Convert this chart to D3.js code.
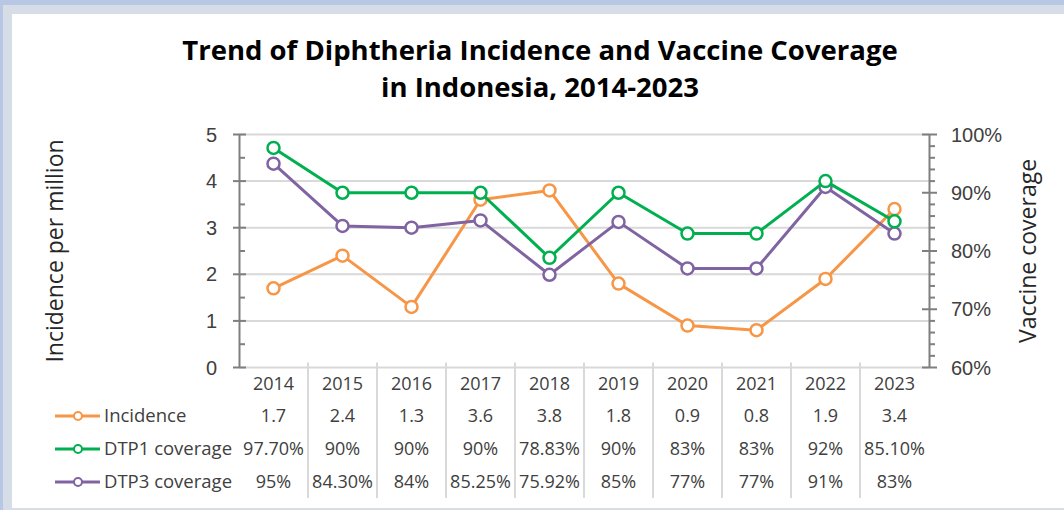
<!DOCTYPE html>
<html>
<head>
<meta charset="utf-8">
<script src="https://cdn.jsdelivr.net/npm/d3@7"></script>
<style>
  html, body { margin: 0; padding: 0; background: #ffffff; }
  svg { display: block; font-family: "Open Sans", "Noto Sans", sans-serif; }
</style>
</head>
<body>
<svg id="chart" width="1064" height="510"></svg>
<script>
// Years on the category axis
const years = ["2014", "2015", "2016", "2017", "2018", "2019", "2020", "2021", "2022", "2023"];
// Diphtheria incidence per million population
const incidence = [1.7, 2.4, 1.3, 3.6, 3.8, 1.8, 0.9, 0.8, 1.9, 3.4];
// Vaccine coverage, percent
const dtp1 = [97.70, 90, 90, 90, 78.83, 90, 83, 83, 92, 85.10];
const dtp3 = [95, 84.30, 84, 85.25, 75.92, 85, 77, 77, 91, 83];
// Axis ticks
const leftTicks = [0, 1, 2, 3, 4, 5];
const rightTicks = [60, 70, 80, 90, 100];

const seriesNames = ["Incidence", "DTP1 coverage", "DTP3 coverage"];
const colors = ["#f79646", "#00b050", "#8064a2"];

const svg = d3.select("#chart");
const W = 1064, H = 510;

// Frame around the chart area
svg.append("rect").attr("x", 0).attr("y", 0).attr("width", W).attr("height", H).attr("fill", "#b7c7e4");
svg.append("rect").attr("x", 3).attr("y", 5).attr("width", W - 3).attr("height", H - 5).attr("fill", "#d6dde7");
svg.append("rect").attr("x", 12).attr("y", 14).attr("width", W - 12).attr("height", 494).attr("fill", "#ffffff");

const plot = { left: 239, right: 929, top: 134.5, bottom: 367.5 };

const x = d3.scaleBand().domain(years).range([plot.left, plot.right]).padding(0);
const yL = d3.scaleLinear().domain([0, 5]).range([plot.bottom, plot.top]);
const yR = d3.scaleLinear().domain([60, 100]).range([plot.bottom, plot.top]);
const cx = d => x(d) + x.bandwidth() / 2;

// Title
const title = svg.append("text")
  .attr("text-anchor", "middle")
  .attr("font-size", 27.5).attr("font-weight", 700).attr("fill", "#000");
title.append("tspan").attr("x", 540).attr("y", 60).text("Trend of Diphtheria Incidence and Vaccine Coverage");
title.append("tspan").attr("x", 540).attr("y", 97).text("in Indonesia, 2014-2023");

// Horizontal gridlines on the incidence scale
svg.append("g").selectAll("line").data(leftTicks).join("line")
  .attr("x1", plot.left).attr("x2", plot.right)
  .attr("y1", d => yL(d)).attr("y2", d => yL(d))
  .attr("stroke", "#d9d9d9").attr("stroke-width", 2);

// Column separators: category boundaries running down through the data table
svg.append("g").selectAll("line").data(years.slice(1)).join("line")
  .attr("x1", d => x(d)).attr("x2", d => x(d))
  .attr("y1", plot.bottom - 5).attr("y2", 498)
  .attr("stroke", "#d9d9d9").attr("stroke-width", 2);

// Left axis (incidence)
const axisColor = "#7f7f7f";
const gL = svg.append("g").attr("transform", `translate(${plot.left},0)`);
gL.call(d3.axisLeft(yL).tickValues(d3.range(0, 5.01, 0.5)).tickSize(0).tickFormat(""));
gL.select(".domain").attr("stroke", axisColor).attr("stroke-width", 2);
gL.selectAll(".minor").data(d3.range(0.5, 5, 1)).join("line").attr("class", "minor")
  .attr("x1", 0).attr("x2", 6).attr("y1", d => yL(d)).attr("y2", d => yL(d))
  .attr("stroke", axisColor).attr("stroke-width", 2);
gL.selectAll(".major").data(leftTicks).join("line").attr("class", "major")
  .attr("x1", -6).attr("x2", 7).attr("y1", d => yL(d)).attr("y2", d => yL(d))
  .attr("stroke", axisColor).attr("stroke-width", 2);
gL.selectAll(".lbl").data(leftTicks).join("text").attr("class", "lbl")
  .attr("x", -22).attr("y", d => yL(d)).attr("dy", "0.35em")
  .attr("text-anchor", "end").attr("font-size", 20).attr("fill", "#404040")
  .text(d => d);

// Right axis (coverage)
const gR = svg.append("g").attr("transform", `translate(${plot.right},0)`);
gR.call(d3.axisRight(yR).tickValues(rightTicks).tickSize(0).tickFormat(""));
gR.select(".domain").attr("stroke", axisColor).attr("stroke-width", 2);
gR.selectAll(".minor").data(d3.range(62, 100, 2).filter(v => v % 10 !== 0)).join("line").attr("class", "minor")
  .attr("x1", 0).attr("x2", 6).attr("y1", d => yR(d)).attr("y2", d => yR(d))
  .attr("stroke", axisColor).attr("stroke-width", 2);
gR.selectAll(".major").data(rightTicks).join("line").attr("class", "major")
  .attr("x1", -7).attr("x2", 8).attr("y1", d => yR(d)).attr("y2", d => yR(d))
  .attr("stroke", axisColor).attr("stroke-width", 2);
gR.selectAll(".lbl").data(rightTicks).join("text").attr("class", "lbl")
  .attr("x", 22).attr("y", d => yR(d)).attr("dy", "0.35em")
  .attr("text-anchor", "start").attr("font-size", 20).attr("fill", "#404040")
  .text(d => d + "%");

// Axis titles
svg.append("text")
  .attr("transform", `translate(55,${(plot.top + plot.bottom) / 2}) rotate(-90)`)
  .attr("dy", "0.35em")
  .attr("text-anchor", "middle").attr("font-size", 23).attr("fill", "#262626")
  .text("Incidence per million");
svg.append("text")
  .attr("transform", `translate(1028,${(plot.top + plot.bottom) / 2}) rotate(-90)`)
  .attr("dy", "0.35em")
  .attr("text-anchor", "middle").attr("font-size", 23).attr("fill", "#262626")
  .text("Vaccine coverage");

// Lines with hollow circle markers
const series = [
  { values: incidence, scale: yL },
  { values: dtp1, scale: yR },
  { values: dtp3, scale: yR }
];
const drawOrder = [0, 2, 1];
drawOrder.forEach(i => {
  const s = series[i];
  const pts = years.map((yr, j) => [cx(yr), s.scale(s.values[j])]);
  svg.append("path")
    .attr("d", d3.line()(pts))
    .attr("fill", "none").attr("stroke", colors[i]).attr("stroke-width", 3)
    .attr("stroke-linejoin", "round");
  svg.append("g").selectAll("circle").data(pts).join("circle")
    .attr("cx", d => d[0]).attr("cy", d => d[1]).attr("r", 6)
    .attr("fill", "#ffffff").attr("stroke", colors[i]).attr("stroke-width", 2.5);
});

// Data table under the chart
const fmtInc = v => v.toFixed(1);
const fmtPct = v => (Number.isInteger(v) ? v : v.toFixed(2)) + "%";
const tableFont = 18;
svg.append("g").selectAll("text").data(years).join("text")
  .attr("x", d => cx(d)).attr("y", 384).attr("dy", "0.35em")
  .attr("text-anchor", "middle").attr("font-size", tableFont).attr("fill", "#404040")
  .text(d => d);

const rows = [
  { values: incidence, fmt: fmtInc, y: 416 },
  { values: dtp1, fmt: fmtPct, y: 449 },
  { values: dtp3, fmt: fmtPct, y: 482 }
];
rows.forEach((r, i) => {
  // legend key
  svg.append("line").attr("x1", 55).attr("x2", 100).attr("y1", r.y).attr("y2", r.y)
    .attr("stroke", colors[i]).attr("stroke-width", 3);
  svg.append("circle").attr("cx", 78).attr("cy", r.y).attr("r", 4)
    .attr("fill", "#ffffff").attr("stroke", colors[i]).attr("stroke-width", 2);
  svg.append("text").attr("x", 104).attr("y", r.y).attr("dy", "0.35em")
    .attr("font-size", 18.5).attr("fill", "#404040").text(seriesNames[i]);
  svg.append("g").selectAll("text").data(years).join("text")
    .attr("x", d => cx(d)).attr("y", r.y).attr("dy", "0.35em")
    .attr("text-anchor", "middle").attr("font-size", tableFont).attr("fill", "#404040")
    .text((d, j) => r.fmt(r.values[j]));
});
</script>
</body>
</html>
